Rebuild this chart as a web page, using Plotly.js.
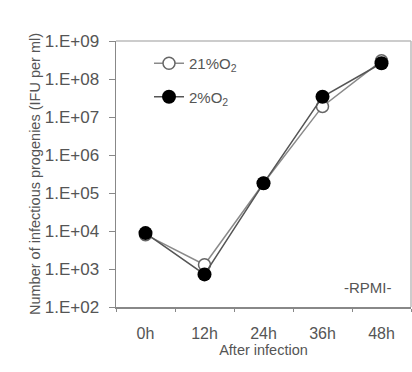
<!DOCTYPE html>
<html>
<head>
<meta charset="utf-8">
<script src="https://cdn.plot.ly/plotly-3.0.1.min.js"></script>
<style>html,body{margin:0;padding:0;background:#fff;}#chart{width:412px;height:372px;}</style>
</head>
<body>
<div id="chart"></div>
<script>
var categories = ["0h", "12h", "24h", "36h", "48h"];
var o2_21 = [8.0e3, 1.3e3, 1.8e5, 1.9e7, 3.0e8];
var o2_2 = [8.8e3, 7.2e2, 1.8e5, 3.4e7, 2.6e8];
var tickValues = [1e2, 1e3, 1e4, 1e5, 1e6, 1e7, 1e8, 1e9];
var tickLabels = ["1.E+02", "1.E+03", "1.E+04", "1.E+05", "1.E+06", "1.E+07", "1.E+08", "1.E+09"];
var seriesNames = ["21%O<sub>2</sub>", "2%O<sub>2</sub>"];

var font = "Arial, 'Liberation Sans', sans-serif";
var traces = [
  {
    x: categories, y: o2_21, name: seriesNames[0], type: "scatter", mode: "lines+markers",
    legendgroup: "a",
    line: {color: "#8a8a8a", width: 1.5},
    marker: {symbol: "circle", size: 12, color: "#ffffff", line: {color: "#666", width: 1.5}}
  },
  {
    x: categories, y: o2_2, name: seriesNames[1], type: "scatter", mode: "lines+markers",
    legendgroup: "b",
    line: {color: "#555", width: 1.5},
    marker: {symbol: "circle", size: 14, color: "#000000", line: {color: "#000", width: 0}}
  }
];

var layout = {
  width: 412, height: 372,
  margin: {l: 116, r: 1, t: 41, b: 65},
  paper_bgcolor: "#fff", plot_bgcolor: "#fff",
  font: {family: font, color: "#555", size: 15},
  showlegend: true,
  legend: {
    x: (149 - 116)/295, xref: "paper", xanchor: "left",
    y: 1 - (47 - 41)/266, yanchor: "top",
    bgcolor: "rgba(0,0,0,0)", borderwidth: 0,
    font: {size: 15, color: "#555", family: font},
    traceorder: "grouped", tracegroupgap: 11
  },
  xaxis: {
    type: "category", range: [-0.5, 4.5],
    showline: true, linecolor: "#888", linewidth: 1.5,
    ticks: "outside", tickson: "boundaries", ticklen: 3, tickcolor: "#888",
    ticklabelstandoff: 11,
    showgrid: false, zeroline: false,
    tickfont: {size: 16, color: "#555", family: font},
    title: {text: "After infection", font: {size: 14.5, color: "#555", family: font}, standoff: 3}
  },
  yaxis: {
    type: "log", range: [2, 9],
    tickvals: tickValues, ticktext: tickLabels,
    showline: true, linecolor: "#888", linewidth: 1.5,
    ticks: "outside", ticklen: 6, tickcolor: "#888",
    ticklabelstandoff: 6,
    showgrid: false, zeroline: false,
    tickfont: {size: 17, color: "#555", family: font},
    title: {text: "Number of infectious progenies (IFU per ml)", font: {size: 14.5, color: "#555", family: font}, standoff: 0}
  },
  shapes: [
    {type: "line", xref: "paper", yref: "paper", x0: 0, x1: 1, y0: 1, y1: 1, line: {color: "#bbb", width: 1.5}},
    {type: "line", xref: "paper", yref: "paper", x0: 1, x1: 1, y0: 0, y1: 1, line: {color: "#bbb", width: 1.5}}
  ],
  annotations: [
    {text: "-RPMI-", xref: "paper", yref: "paper", x: (368-116)/295, y: (307-287)/266,
     xanchor: "center", yanchor: "middle",
     showarrow: false, font: {size: 15, color: "#555", family: font}}
  ]
};

Plotly.newPlot("chart", traces, layout, {displayModeBar: false, staticPlot: true});
</script>
</body>
</html>
